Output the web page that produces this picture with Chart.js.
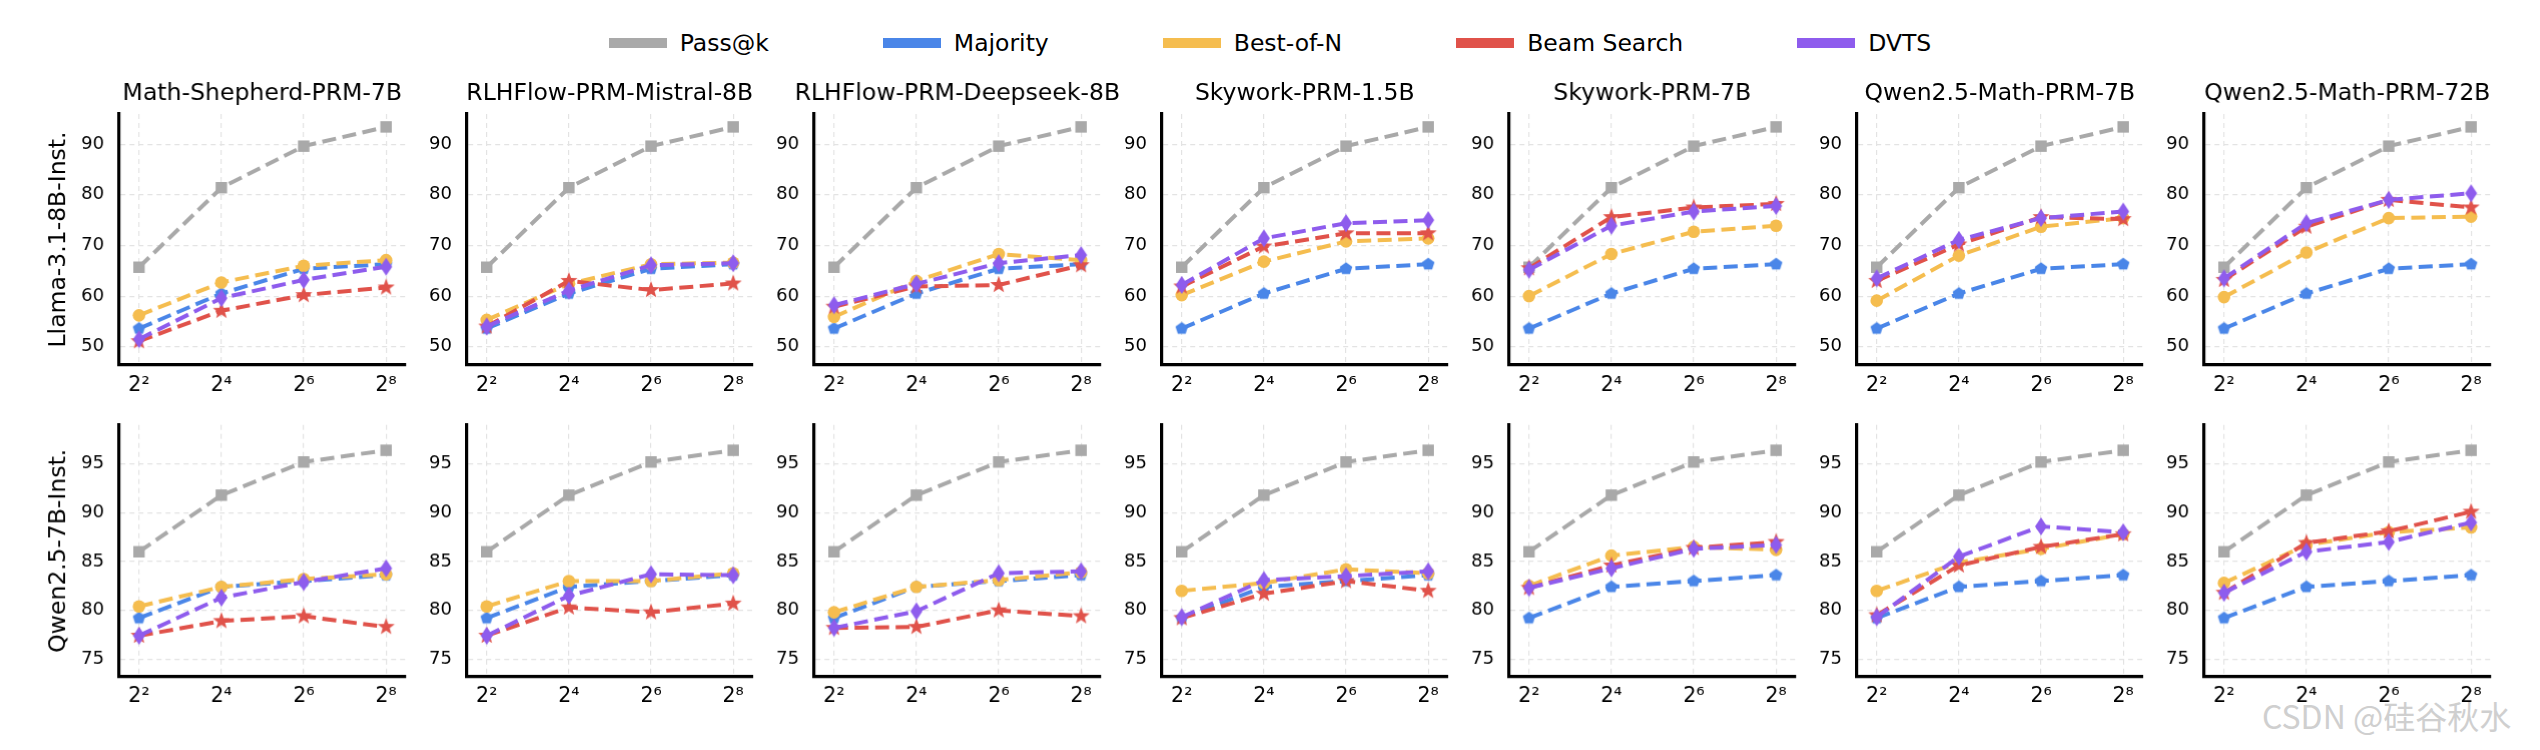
<!DOCTYPE html>
<html>
<head>
<meta charset="utf-8">
<script src="https://cdn.jsdelivr.net/npm/chart.js@4.4.1/dist/chart.umd.min.js"></script>
<style>
  html, body { margin: 0; padding: 0; background: #fff; }
  body { width: 2540px; height: 750px; position: relative; overflow: hidden; font-family: "DejaVu Sans", sans-serif; }
  .panel { position: absolute; }
  #legend { position: absolute; left: 0; top: 29px; width: 2540px; height: 28px; display: flex; justify-content: center; align-items: center; font-size: 23.5px; color: #000; }
  #legend .item { display: flex; align-items: center; margin: 0 57px; white-space: nowrap; }
  #legend .swatch { width: 58px; height: 10px; margin-right: 13px; }
  #mark { position: absolute; left: 2262px; top: 692px; font-family: "Noto Sans CJK SC", sans-serif; font-size: 32px; color: #cfcfcf; white-space: nowrap; }
</style>
</head>
<body>
<div id="legend"></div>
<div id="mark">CSDN @硅谷秋水</div>
<script>
// x: log2 of the number of generations
const xExp = [2, 4, 6, 8];
const xLabels = ["2²", "2⁴", "2⁶", "2⁸"];
const prmNames = ["Math-Shepherd-PRM-7B", "RLHFlow-PRM-Mistral-8B", "RLHFlow-PRM-Deepseek-8B",
  "Skywork-PRM-1.5B", "Skywork-PRM-7B", "Qwen2.5-Math-PRM-7B", "Qwen2.5-Math-PRM-72B"];
const policyNames = ["Llama-3.1-8B-Inst.", "Qwen2.5-7B-Inst."];
const methods = ["Pass@k", "Majority", "Best-of-N", "Beam Search", "DVTS"];
const yTicksLlama = [50, 60, 70, 80, 90];
const yTicksQwen = [75, 80, 85, 90, 95];

// Llama-3.1-8B-Instruct (baris atas)
const passLlama = [65.7, 81.4, 89.6, 93.4];
const majorityLlama = [53.6, 60.5, 65.4, 66.3];
const bonLlama = [
  [56.2, 62.7, 66.0, 67.1], [55.3, 62.4, 66.3, 66.6], [55.9, 63.0, 68.3, 67.1],
  [60.2, 66.8, 70.8, 71.4], [60.0, 68.3, 72.7, 73.9], [59.1, 68.0, 73.7, 75.4], [59.8, 68.6, 75.4, 75.7]];
const beamLlama = [
  [51.1, 57.1, 60.2, 61.7], [54.0, 63.0, 61.2, 62.5], [57.9, 61.9, 62.2, 66.1],
  [61.9, 69.8, 72.4, 72.4], [65.5, 75.6, 77.5, 78.2], [63.0, 70.2, 75.6, 75.2], [63.2, 73.7, 79.0, 77.5]];
const dvtsLlama = [
  [51.5, 59.6, 63.2, 65.8], [54.0, 61.1, 66.1, 66.5], [58.2, 62.4, 66.5, 68.1],
  [62.2, 71.4, 74.4, 75.0], [65.2, 73.9, 76.7, 77.8], [63.5, 71.1, 75.4, 76.7], [63.5, 74.4, 79.0, 80.3]];

// Qwen2.5-7B-Instruct (baris bawah)
const passQwen = [86.0, 91.8, 95.2, 96.4];
const majorityQwen = [79.2, 82.4, 83.0, 83.6];
const bonQwen = [
  [80.4, 82.4, 83.2, 83.7], [80.4, 83.0, 83.0, 83.8], [79.8, 82.4, 83.1, 83.9],
  [82.0, 82.8, 84.2, 83.8], [82.5, 85.6, 86.5, 86.2], [82.0, 84.9, 86.3, 87.8], [82.8, 86.7, 88.0, 88.5]];
const beamQwen = [
  [77.4, 78.9, 79.4, 78.3], [77.4, 80.3, 79.8, 80.7], [78.2, 78.3, 80.0, 79.4],
  [79.2, 81.7, 83.0, 82.0], [82.3, 84.6, 86.4, 87.0], [79.5, 84.6, 86.5, 87.8], [81.8, 86.9, 88.1, 90.1]];
const dvtsQwen = [
  [77.4, 81.3, 82.9, 84.3], [77.4, 81.5, 83.7, 83.6], [78.2, 79.9, 83.8, 84.0],
  [79.3, 83.1, 83.5, 84.0], [82.3, 84.3, 86.3, 86.7], [79.3, 85.5, 88.6, 88.0], [81.8, 86.0, 87.0, 89.0]];

const colors = ["#a9a9a9", "#4a86e8", "#f5bd4f", "#e0524a", "#8e5ced"];
const FONT = "DejaVu Sans";

// posisi area plot (piksel)
const PLOT_LEFT = [119, 466.5, 814, 1161.5, 1509, 1856.5, 2204];
const PLOT_TOP = [114, 425];
const PLOT_W = 285.5, PLOT_H = 251;
const Y_AXIS_W = 100, X_AXIS_H = 45;
const yRange = [[46.4, 95.95], [73.2, 99.0]];

// marker buatan sendiri: pentagon, bintang, berlian tipis
function marker(kind, color) {
  const c = document.createElement("canvas");
  c.width = 22; c.height = 22;
  const g = c.getContext("2d");
  const cx = 11, cy = 11;
  g.fillStyle = color;
  g.beginPath();
  if (kind === "pentagon") {
    for (let i = 0; i < 5; i++) {
      const a = -Math.PI / 2 + i * 2 * Math.PI / 5;
      g.lineTo(cx + 6.6 * Math.cos(a), cy + 6.6 * Math.sin(a));
    }
  } else if (kind === "star") {
    for (let i = 0; i < 10; i++) {
      const a = -Math.PI / 2 + i * Math.PI / 5;
      const r = i % 2 === 0 ? 9 : 3.7;
      g.lineTo(cx + r * Math.cos(a), cy + r * Math.sin(a));
    }
  } else {
    g.moveTo(cx, cy - 9); g.lineTo(cx + 6, cy); g.lineTo(cx, cy + 9); g.lineTo(cx - 6, cy);
  }
  g.closePath();
  g.fill();
  return c;
}

const pointStyles = ["rect", marker("pentagon", colors[1]), "circle", marker("star", colors[3]), marker("diamond", colors[4])];
const pointRadius = [8.1, 8, 6.3, 9, 9];

// legenda
const legend = document.getElementById("legend");
methods.forEach((m, i) => {
  legend.innerHTML += `<div class="item"><div class="swatch" style="background:${colors[i]}"></div><span>${m}</span></div>`;
});

// judul panel di tengah area plot, tidak dipadatkan seperti plugin title
const panelTitle = {
  id: "panelTitle",
  afterDraw(chart, args, opts) {
    if (!opts.text) return;
    const { ctx, chartArea } = chart;
    ctx.save();
    ctx.fillStyle = "#000";
    ctx.font = `23.5px "${FONT}"`;
    ctx.textAlign = "center";
    ctx.textBaseline = "middle";
    ctx.fillText(opts.text, (chartArea.left + chartArea.right) / 2, chartArea.top - 20.5);
    ctx.restore();
  }
};

function seriesFor(row, col) {
  if (row === 0) return [passLlama, majorityLlama, bonLlama[col], beamLlama[col], dvtsLlama[col]];
  return [passQwen, majorityQwen, bonQwen[col], beamQwen[col], dvtsQwen[col]];
}

function buatPanel(row, col) {
  const wrap = document.createElement("div");
  wrap.className = "panel";
  const topPad = row === 0 ? 42 : 14;
  let W = Y_AXIS_W + PLOT_W + 40;
  let H = topPad + PLOT_H + X_AXIS_H;
  wrap.style.width = W + "px";
  wrap.style.height = H + "px";
  wrap.style.left = "0px";
  wrap.style.top = "0px";
  const canvas = document.createElement("canvas");
  wrap.appendChild(canvas);
  document.body.appendChild(wrap);

  const series = seriesFor(row, col);
  const yTicks = row === 0 ? yTicksLlama : yTicksQwen;

  const chart = new Chart(canvas.getContext("2d"), {
    type: "line",
    data: {
      datasets: methods.map((m, i) => ({
        label: m,
        data: series[i].map((v, k) => ({ x: xExp[k], y: v })),
        borderColor: colors[i],
        backgroundColor: colors[i],
        borderWidth: 4,
        borderDash: [14, 6.5],
        pointStyle: pointStyles[i],
        pointRadius: pointRadius[i],
        pointBorderWidth: 0,
        pointBackgroundColor: colors[i],
        fill: false,
        tension: 0,
        order: methods.length - i,
        clip: false
      }))
    },
    plugins: [panelTitle],
    options: {
      responsive: true,
      maintainAspectRatio: false,
      animation: false,
      devicePixelRatio: 1,
      events: [],
      layout: { padding: { top: topPad, right: 40, left: 0, bottom: 0 } },
      plugins: {
        legend: { display: false },
        tooltip: { enabled: false },
        title: { display: false },
        panelTitle: { text: row === 0 ? prmNames[col] : "" }
      },
      scales: {
        x: {
          type: "linear",
          min: 1.52,
          max: 8.47,
          afterBuildTicks: s => { s.ticks = xExp.map(v => ({ value: v })); },
          afterFit: s => { s.height = X_AXIS_H; },
          ticks: {
            callback: v => xLabels[xExp.indexOf(v)],
            color: "#000",
            font: { family: FONT, size: 20.5 },
            padding: 8,
            maxRotation: 0,
            autoSkip: false
          },
          grid: { color: "#e3e3e3", lineWidth: 1.2, drawTicks: false },
          border: { display: true, color: "#000", width: 3.2, dash: [5, 4] }
        },
        y: {
          min: yRange[row][0],
          max: yRange[row][1],
          afterBuildTicks: s => { s.ticks = yTicks.map(v => ({ value: v })); },
          afterFit: s => { s.width = Y_AXIS_W; },
          ticks: {
            color: "#000",
            font: { family: FONT, size: 18 },
            padding: 15
          },
          title: {
            display: col === 0,
            text: policyNames[row],
            color: "#000",
            font: { family: FONT, size: 23.5, weight: "normal" },
            padding: { top: 25.9, bottom: 0 }
          },
          grid: { color: "#e3e3e3", lineWidth: 1.2, drawTicks: false },
          border: { display: true, color: "#000", width: 3.2, dash: [5, 4] }
        }
      }
    }
  });

  // koreksi ukuran, lalu geser supaya area plot tepat di posisinya
  let ca = chart.chartArea;
  const dw = PLOT_W - (ca.right - ca.left);
  const dh = PLOT_H - (ca.bottom - ca.top);
  if (Math.abs(dw) > 0.1 || Math.abs(dh) > 0.1) {
    wrap.style.width = (W + dw) + "px";
    wrap.style.height = (H + dh) + "px";
    chart.resize();
    ca = chart.chartArea;
  }
  wrap.style.left = (PLOT_LEFT[col] - ca.left) + "px";
  wrap.style.top = (PLOT_TOP[row] - ca.top) + "px";
}

for (let r = 0; r < 2; r++) {
  for (let c = 0; c < prmNames.length; c++) buatPanel(r, c);
}
</script>
</body>
</html>
